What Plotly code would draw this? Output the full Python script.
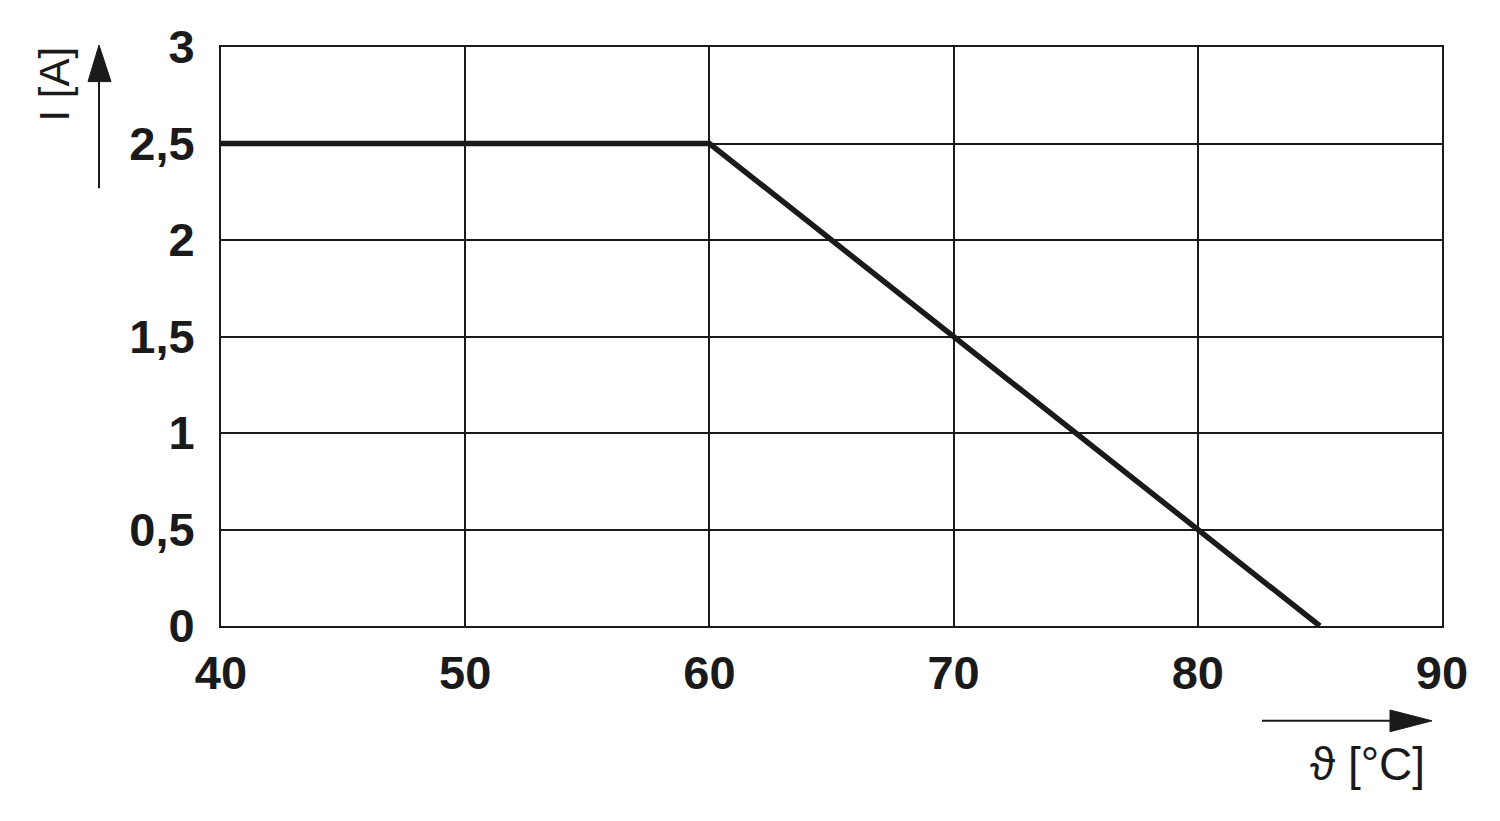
import plotly.graph_objects as go

temp_c = [40, 60, 85]
current_a = [2.5, 2.5, 0]
x_ticks = [40, 50, 60, 70, 80, 90]
y_ticks = [0, 0.5, 1, 1.5, 2, 2.5, 3]
y_tick_labels = ["0", "0,5", "1", "1,5", "2", "2,5", "3"]

W, H = 1500, 821
OFFX, OFFY = 8, 8  # page body offset
L, R, T, B = 221 - OFFX, 58 + OFFX, 40 - OFFY, 195 + OFFY
pw, ph = W - L - R, H - T - B

def px(x):
    return (x - OFFX - L) / pw

def py(y):
    return (H - B - (y - OFFY)) / ph

FONT = "Liberation Sans, Arial, sans-serif"
INK = "#1a1a1a"

fig = go.Figure()
fig.add_trace(go.Scatter(x=temp_c, y=current_a, mode="lines",
                         line=dict(color=INK, width=5.5), showlegend=False))

axis_common = dict(showgrid=True, gridcolor=INK, gridwidth=2,
                   showline=True, linecolor=INK, linewidth=2, mirror=True,
                   zeroline=False, ticks="", ticklabeloverflow="allow",
                   tickfont=dict(family=FONT, size=47, color=INK, weight="bold"))

fig.update_xaxes(range=[40, 90], tickvals=x_ticks, ticktext=[str(v) for v in x_ticks],
                 ticklabelstandoff=5, **axis_common)
fig.update_yaxes(range=[0, 3], tickvals=y_ticks, ticktext=y_tick_labels,
                 ticklabelstandoff=15, **axis_common)

shapes = []
shapes.append(dict(type="line", xref="paper", yref="paper",
                   x0=px(99), x1=px(99), y0=py(183), y1=py(70),
                   line=dict(color=INK, width=2)))
shapes.append(dict(type="path", xref="paper", yref="paper",
                   path=f"M {px(99)},{py(38)} L {px(88)},{py(75)} L {px(111)},{py(75)} Z",
                   fillcolor=INK, line=dict(color=INK, width=1)))
shapes.append(dict(type="line", xref="paper", yref="paper",
                   x0=px(1262), x1=px(1395), y0=py(722), y1=py(722),
                   line=dict(color=INK, width=2)))
shapes.append(dict(type="path", xref="paper", yref="paper",
                   path=f"M {px(1432)},{py(722)} L {px(1390)},{py(711)} L {px(1390)},{py(733)} Z",
                   fillcolor=INK, line=dict(color=INK, width=1)))

annotations = [
    dict(text="I [A]", xref="paper", yref="paper", x=px(55), y=py(78),
         xanchor="center", yanchor="middle", textangle=-90, showarrow=False,
         font=dict(family=FONT, size=42, color=INK)),
    dict(text="ϑ [°C]", xref="paper", yref="paper", x=px(1367), y=py(766),
         xanchor="center", yanchor="middle", showarrow=False,
         font=dict(family=FONT, size=46, color=INK)),
]

fig.update_layout(width=W, height=H, margin=dict(l=L, r=R, t=T, b=B),
                  plot_bgcolor="white", paper_bgcolor="white",
                  shapes=shapes, annotations=annotations, showlegend=False)

fig.write_html("out.html")
